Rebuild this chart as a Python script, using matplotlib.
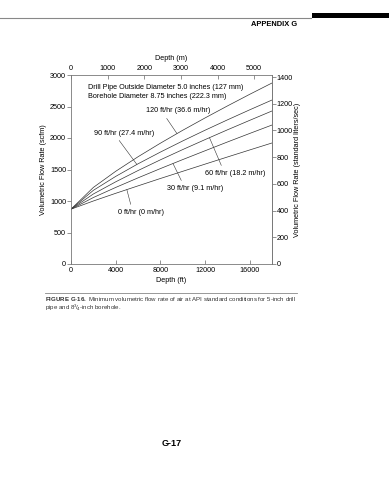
import matplotlib
matplotlib.use('Agg')
import matplotlib.pyplot as plt

plt.rcParams['font.family'] = ['Liberation Sans', 'DejaVu Sans']
plt.rcParams['mathtext.fontset'] = 'custom'
plt.rcParams['mathtext.rm'] = 'Liberation Sans'
plt.rcParams['mathtext.bf'] = 'Liberation Sans:bold'

depth_ft = [0, 2000, 4000, 6000, 8000, 10000, 12000, 14000, 16000, 18000]

# minimum flow rate (scfm) for each penetration rate
rates = ['0 ft/hr (0 m/hr)', '30 ft/hr (9.1 m/hr)', '60 ft/hr (18.2 m/hr)',
         '90 ft/hr (27.4 m/hr)', '120 ft/hr (36.6 m/hr)']
q_0 = [870, 1000, 1122, 1240, 1357, 1471, 1585, 1698, 1810, 1921]
q_30 = [870, 1055, 1215, 1367, 1514, 1657, 1797, 1936, 2072, 2206]
q_60 = [870, 1111, 1304, 1483, 1653, 1816, 1974, 2129, 2280, 2429]
q_90 = [870, 1169, 1390, 1590, 1776, 1953, 2123, 2287, 2447, 2603]
q_120 = [870, 1215, 1471, 1702, 1917, 2122, 2318, 2508, 2693, 2873]
flows = [q_0, q_30, q_60, q_90, q_120]

xticks_ft = [0, 4000, 8000, 12000, 16000]
xticks_m = [0, 1000, 2000, 3000, 4000, 5000]
yticks_scfm = [0, 500, 1000, 1500, 2000, 2500, 3000]
yticks_ls = [0, 200, 400, 600, 800, 1000, 1200, 1400]

FT_PER_M = 3.28084
LS_PER_SCFM = 0.4719
grey = '#666666'
fs = 5.2

fig = plt.figure(figsize=(3.89, 4.80), dpi=100)

# page header / footer
fig.add_artist(plt.Line2D([0.0, 0.80], [1 - 18/480, 1 - 18/480], color='#888888', lw=0.8))
fig.add_artist(plt.Rectangle((312/389, 1 - 18/480), 77/389, 5/480, color='black', lw=0))
fig.text(297/389, 1 - 25/480, 'APPENDIX G', fontsize=5.4, fontweight='bold',
         ha='right', va='center')
fig.text(172/389, 1 - 443/480, 'G-17', fontsize=6.5, fontweight='bold', ha='center', va='center')

ax = fig.add_axes([71/389, 1 - 264/480, 201/389, 189/480])
for q in flows:
    ax.plot(depth_ft, q, color='#333333', lw=0.5)

ax.set_xlim(0, 18000)
ax.set_ylim(0, 3000)
ax.set_xticks(xticks_ft)
ax.set_yticks(yticks_scfm)
ax.tick_params(axis='x', direction='in', length=3, width=0.5, color=grey, labelsize=fs, pad=2)
ax.tick_params(axis='y', direction='out', length=3, width=0.5, color=grey, labelsize=fs, pad=0.5)
for s in ['left', 'bottom', 'right']:
    ax.spines[s].set_color('#777777')
    ax.spines[s].set_linewidth(0.6)
ax.spines['top'].set_visible(False)
ax.set_xlabel('Depth (ft)', fontsize=fs, labelpad=2)
ax.set_ylabel('Volumetric Flow Rate (scfm)', fontsize=fs, labelpad=2)

# top axis: depth in metres
top = ax.secondary_xaxis('top', functions=(lambda x: x / FT_PER_M, lambda m: m * FT_PER_M))
top.set_xticks(xticks_m)
top.tick_params(direction='in', length=3, width=0.5, color=grey, labelsize=fs, pad=2)
top.spines['top'].set_color('#777777')
top.spines['top'].set_linewidth(0.6)
top.set_xlabel('Depth (m)', fontsize=fs, labelpad=4)

# right axis: standard liters/sec
right = ax.secondary_yaxis('right', functions=(lambda q: q * LS_PER_SCFM, lambda l: l / LS_PER_SCFM))
right.set_yticks(yticks_ls)
right.tick_params(direction='out', length=3, width=0.5, color=grey, labelsize=fs, pad=0.5)
right.spines['right'].set_color('#777777')
right.spines['right'].set_linewidth(0.6)
right.set_ylabel('Volumetric Flow Rate (standard liters/sec)', fontsize=fs, labelpad=0.5)

ax.text(0.085, 0.95, 'Drill Pipe Outside Diameter 5.0 inches (127 mm)\n'
        'Borehole Diameter 8.75 inches (222.3 mm)', transform=ax.transAxes,
        fontsize=fs, va='top', ha='left', linespacing=1.3)

# curve labels: text position, leader end on curve, leader attach point on text
lab = [((4208, 825), (5000, 1181), (0.3, 1.0)),
       ((8594, 1206), (9130, 1596), (0.29, 1.0)),
       ((11996, 1444), (12400, 2005), (0.3, 1.0)),
       ((2059, 2079), (5900, 1580), (0.37, 0.0)),
       ((6715, 2429), (9490, 2070), (0.28, 0.0))]
for name, (tp, ep, rp) in zip(rates, lab):
    ax.annotate(name, xy=ep, xytext=tp, fontsize=fs, ha='left', va='center',
                arrowprops=dict(arrowstyle='-', lw=0.4, color='#333333',
                                shrinkA=1, shrinkB=0, relpos=rp))

# caption
fig.add_artist(plt.Line2D([45/389, 297/389], [1 - 293/480, 1 - 293/480], color='#888888', lw=0.6))
fig.text(45/389, 1 - 299/480,
         r'$\mathbf{FIGURE\ G\text{-}16.}$ Minimum volumetric flow rate of air at API standard conditions for 5-inch drill',
         fontsize=4.4, ha='left', va='center', color='#333333')
fig.text(45/389, 1 - 308/480, r'pipe and 8$^3\!/_4$-inch borehole.', fontsize=4.4, ha='left',
         va='center', color='#333333')

fig.savefig('out.png', dpi=100)
